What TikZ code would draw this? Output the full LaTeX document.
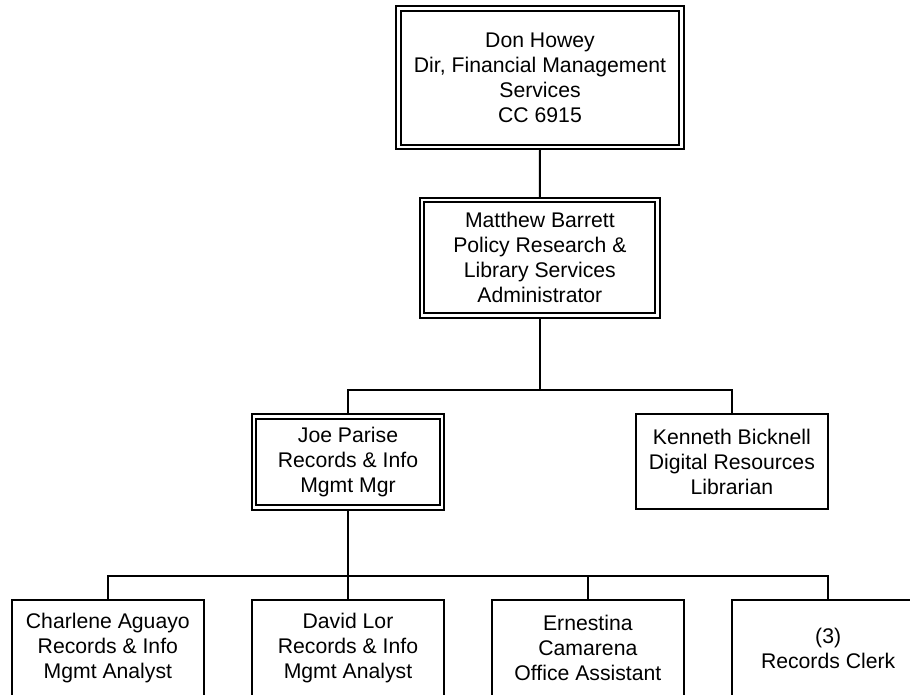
\documentclass[tikz,border=0pt]{standalone}
\usepackage{fontspec}
\setmainfont{Liberation Sans}
\pgfdeclarelayer{background}
\pgfsetlayers{background,main}
\tikzset{
  box/.style={draw=black, line width=1.9pt, fill=white, inner sep=0pt, align=center,
    font=\fontsize{21.2}{25}\selectfont},
  dbox/.style={box, double=white, double distance=2.7pt},
  conn/.style={draw=black, line width=2pt},
}
\begin{document}
\begin{tikzpicture}[x=1pt, y=-1pt]
\useasboundingbox (0,0) rectangle (910,694);
\clip (0,0) rectangle (910,694);

\node[dbox, minimum width=283.4pt, minimum height=138.7pt] (don) at (540,77.65)
  {Don Howey\\Dir, Financial Management\\Services\\CC 6915};
\node[dbox, minimum width=235.7pt, minimum height=115.4pt] (matt) at (539.85,257.7)
  {Matthew Barrett\\Policy Research \&\\Library Services\\Administrator};
\node[dbox, minimum width=188pt, minimum height=91.4pt] (joe) at (348,462)
  {Joe Parise\\Records \& Info\\Mgmt Mgr};
\node[box, minimum width=192.3pt, minimum height=95.3pt] (ken) at (731.85,461.65)
  {Kenneth Bicknell\\Digital Resources\\Librarian};

\node[box, minimum width=192.3pt, minimum height=96pt] (char) at (107.85,648)
  {Charlene Aguayo\\Records \& Info\\Mgmt Analyst};
\node[box, minimum width=192.6pt, minimum height=96pt] (david) at (348,648)
  {David Lor\\Records \& Info\\Mgmt Analyst};
\node[box, minimum width=192.3pt, minimum height=96pt] (ern) at (587.85,648)
  {Ernestina\\Camarena\\Office Assistant};
\node[box, minimum width=192.3pt, minimum height=96pt] (clerk) at (828.15,648)
  {(3)\\Records Clerk};

\coordinate (j1) at (539.85,390);
\coordinate (j2) at (348,576);

\begin{pgfonlayer}{background}
\draw[conn] (don.south) -- (matt.north);
\draw[conn] (matt.south) -- (j1);
\draw[conn] (joe.north) |- (j1) -| (ken.north);
\draw[conn] (joe.south) -- (j2);
\draw[conn] (char.north) |- (j2) -| (clerk.north);
\draw[conn] (david.north) -- (j2);
\draw[conn] (ern.north) |- (j2);
\end{pgfonlayer}
\end{tikzpicture}
\end{document}
